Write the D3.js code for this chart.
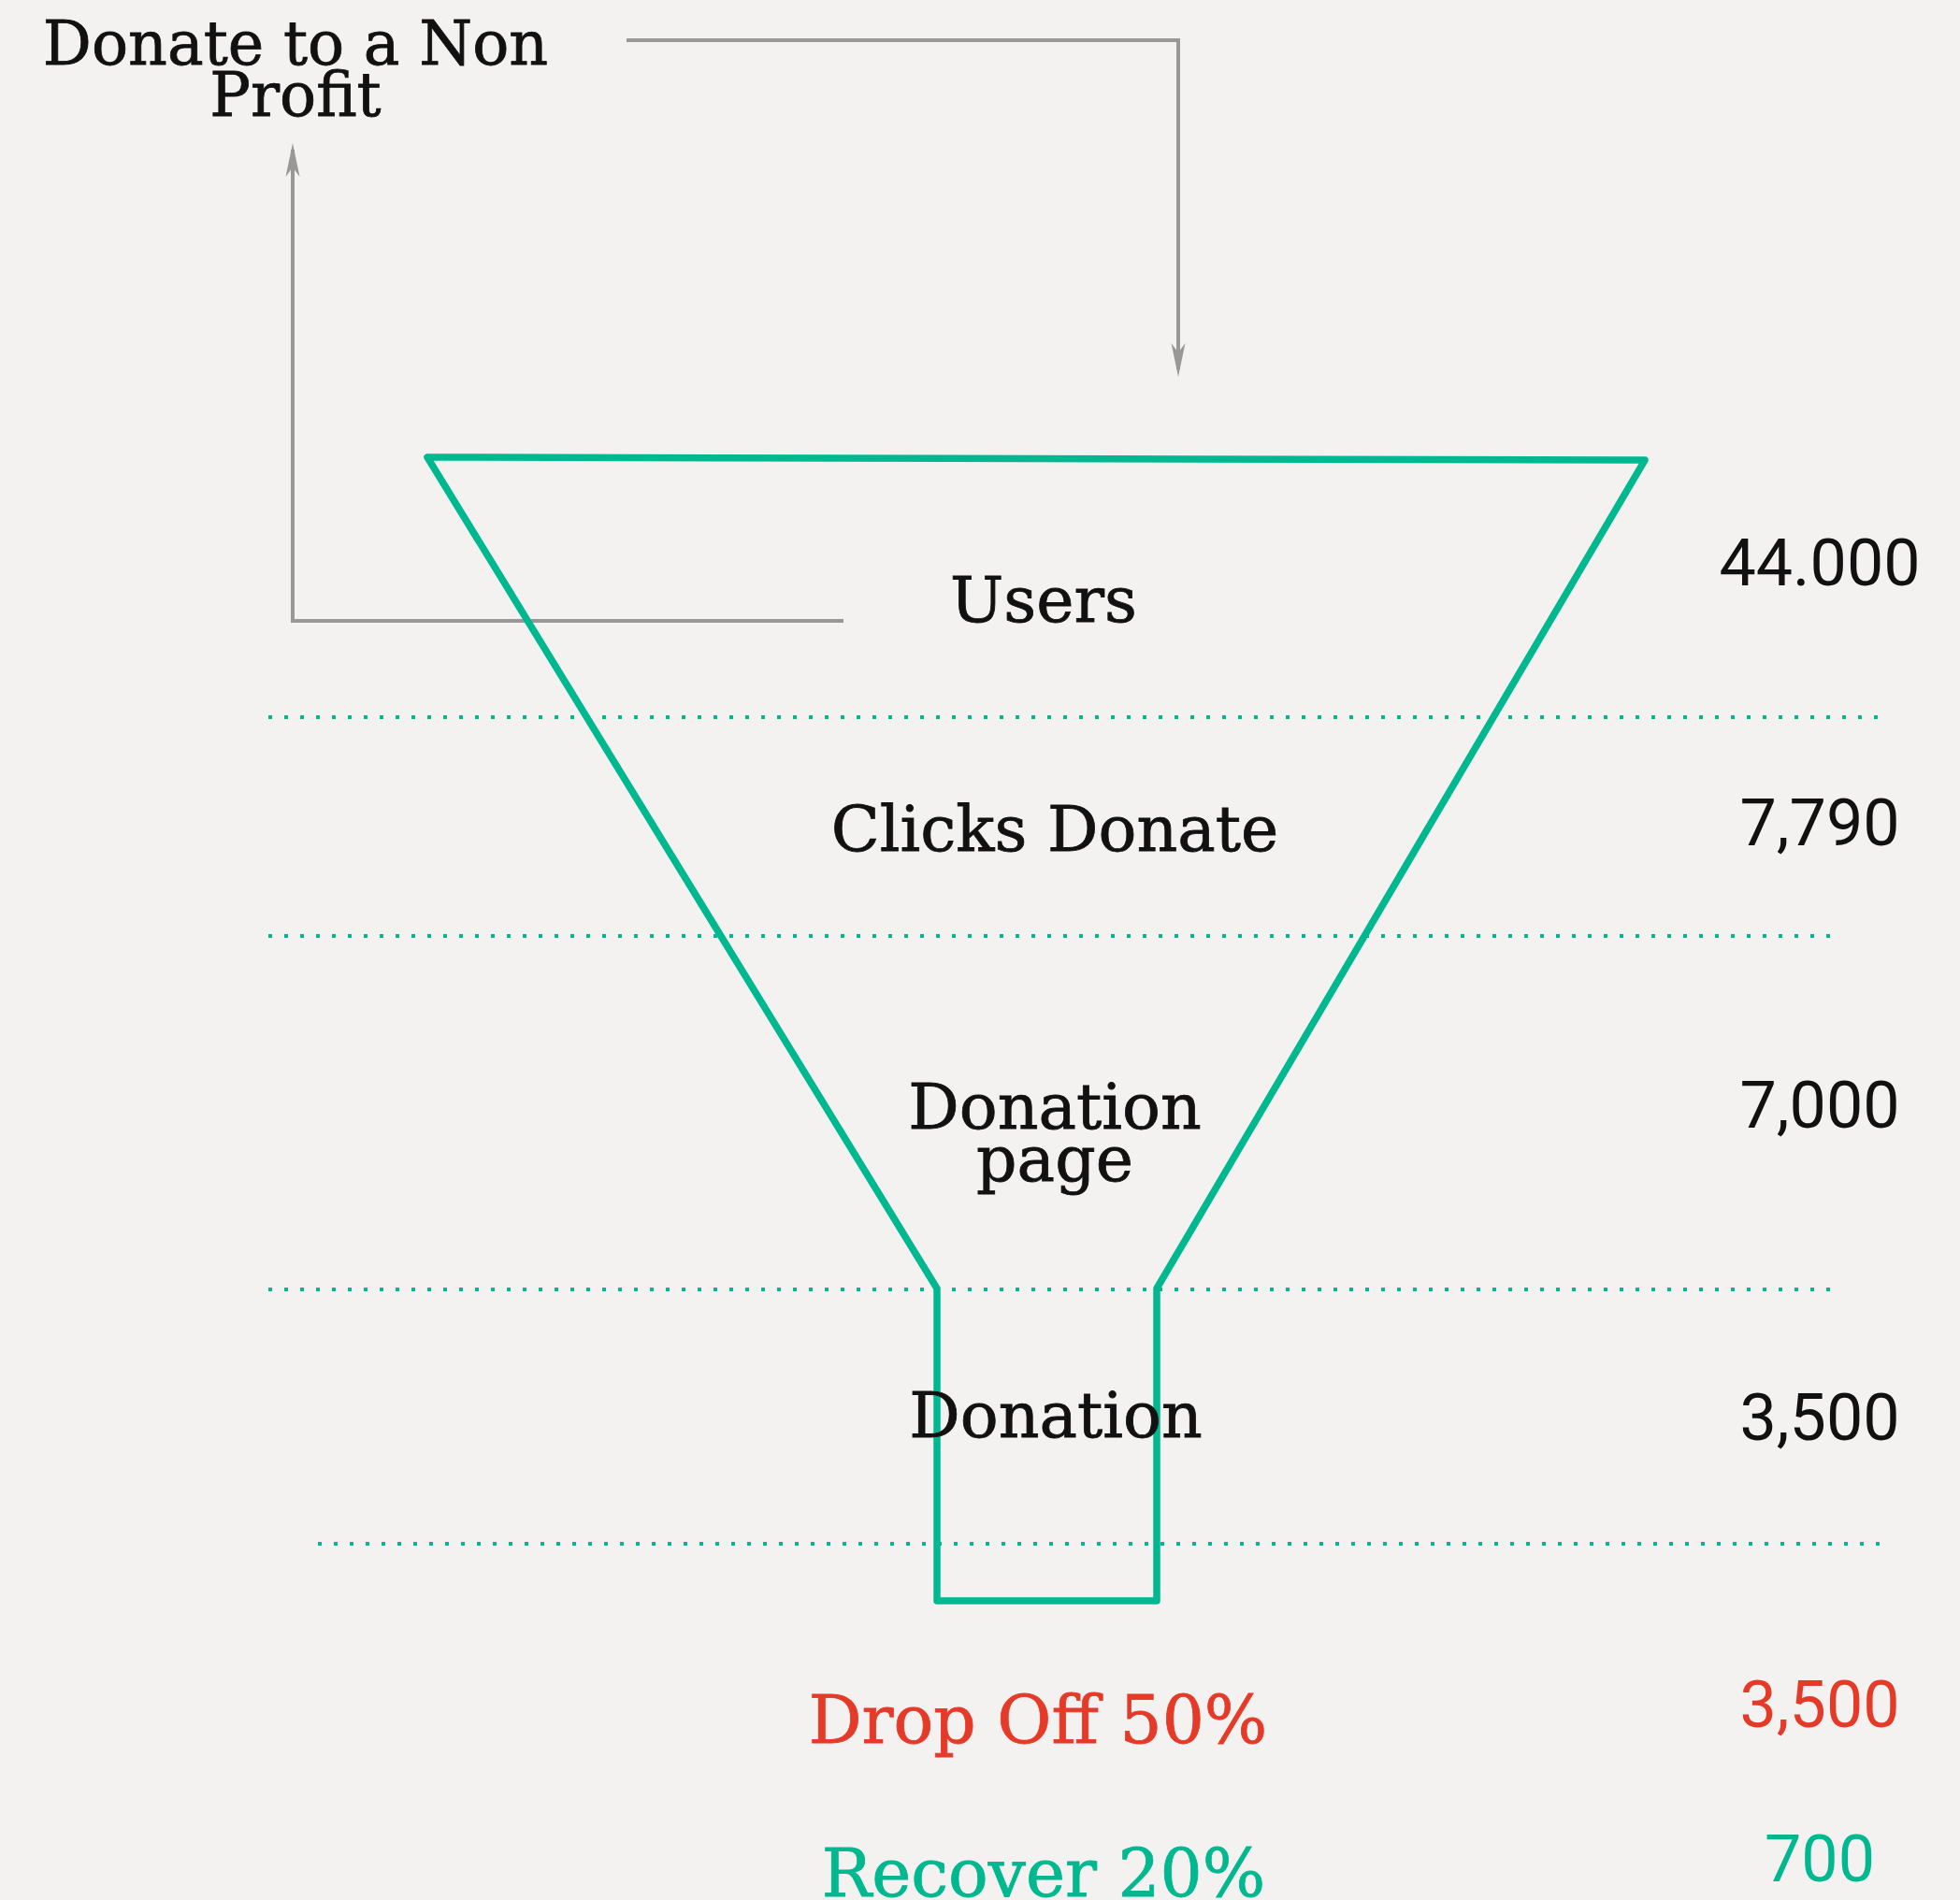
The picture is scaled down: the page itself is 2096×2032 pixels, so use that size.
<!DOCTYPE html>
<html>
<head>
<meta charset="utf-8">
<script src="https://cdn.jsdelivr.net/npm/d3@7"></script>
<style>
  html, body { margin: 0; padding: 0; background: #f3f2f0; }
  svg { display: block; }
</style>
</head>
<body>
<svg width="2096" height="2032"></svg>
<script>
'use strict'

// funnel stages and counts
const stageLines = [["Users"], ["Clicks Donate"], ["Donation", "page"], ["Donation"]];
const stageValues = [44000, 7790, 7000, 3500];
const valueLabels = ["44.000", "7,790", "7,000", "3,500"];

// what happens after the funnel
const outcomes = ["Drop Off 50%", "Recover 20%"];
const outcomeValues = [3500, 700];
const outcomeLabels = ["3,500", "700"];

const titleLines = ["Donate to a Non", "Profit"];

const GREEN = '#00b88f';
const RED = '#e63a29';
const GREY = '#9a9896';
const SERIF = '"DejaVu Serif", serif';
const NUM = 'Roboto, sans-serif';

const svg = d3.select('svg');

// row layout (label baselines, number baselines)
const stageIdx = d3.range(stageLines.length);
const labelY = d3.scaleOrdinal().domain(stageIdx).range([665, 910, 1207, 1537]);
const labelX = d3.scaleOrdinal().domain(stageIdx).range([1116, 1128, 1128, 1129]);
const numberY = d3.scaleOrdinal().domain(stageIdx).range([626, 904, 1206, 1540]);
const outcomeIdx = d3.range(outcomes.length);
const outcomeY = d3.scaleOrdinal().domain(outcomeIdx).range([1864, 2028]);
const outcomeX = d3.scaleOrdinal().domain(outcomeIdx).range([1110, 1116]);
const outcomeNumY = d3.scaleOrdinal().domain(outcomeIdx).range([1847, 2012]);

const NUMBER_X = 1946;

// funnel outline in a unit box, scaled out to pixels
const fx = d3.scaleLinear().domain([0, 1]).range([457, 1759]);
const fy = d3.scaleLinear().domain([0, 1]).range([489, 1712]);
const neckL = (1002 - 457) / 1302, neckR = (1237 - 457) / 1302;
const neckY = (1378 - 489) / 1223;
const funnel = [[0, 0], [1, 0.0025], [neckR, neckY], [neckR, 1], [neckL, 1], [neckL, neckY]];

// dotted separators between rows
const dividers = [
  { y: 767, x0: 287, x1: 2008 },
  { y: 1001, x0: 287, x1: 1958 },
  { y: 1379, x0: 287, x1: 1958 },
  { y: 1651, x0: 340, x1: 2012 }
];

svg.append('g')
  .selectAll('line')
  .data(dividers)
  .join('line')
  .attr('x1', d => d.x0)
  .attr('x2', d => d.x1)
  .attr('y1', d => d.y)
  .attr('y2', d => d.y)
  .attr('stroke', GREEN)
  .attr('stroke-width', 4)
  .attr('stroke-dasharray', '4 13');

// grey connector lines with arrows
const g = svg.append('g')
  .attr('stroke', GREY)
  .attr('stroke-width', 4)
  .attr('fill', 'none');

g.append('path').attr('d', 'M902,664 H313 V160');
g.append('path').attr('d', 'M670,43 H1260 V395');

function arrowHead(x, tip, dir) {
  // dir -1 points up, 1 points down
  const back = tip - dir * 36, notch = tip - dir * 26;
  return `M${x},${tip} L${x - 7.5},${back} L${x},${notch} L${x + 7.5},${back} Z`;
}
svg.append('path').attr('d', arrowHead(313, 153, -1)).attr('fill', GREY);
svg.append('path').attr('d', arrowHead(1260, 403, 1)).attr('fill', GREY);

// funnel
svg.append('path')
  .attr('d', d3.line().x(d => fx(d[0])).y(d => fy(d[1])).curve(d3.curveLinearClosed)(funnel))
  .attr('fill', 'none')
  .attr('stroke', GREEN)
  .attr('stroke-width', 7.5)
  .attr('stroke-linejoin', 'round');

// title
svg.append('text')
  .attr('font-family', SERIF)
  .attr('font-size', 65)
  .attr('text-anchor', 'middle')
  .attr('fill', '#111')
  .attr('stroke', '#111')
  .attr('stroke-width', 0.8)
  .selectAll('tspan')
  .data(titleLines)
  .join('tspan')
  .attr('x', 316)
  .attr('y', (d, i) => 69 + i * 55)
  .text(d => d);

// stage labels
svg.append('g')
  .selectAll('text')
  .data(stageLines)
  .join('text')
  .attr('font-family', SERIF)
  .attr('font-size', 68)
  .attr('text-anchor', 'middle')
  .attr('fill', '#111')
  .attr('stroke', '#111')
  .attr('stroke-width', 0.8)
  .selectAll('tspan')
  .data((d, i) => d.map((s, j) => ({ s, i, j })))
  .join('tspan')
  .attr('x', d => labelX(d.i))
  .attr('y', d => labelY(d.i) + d.j * 56)
  .text(d => d.s);

// stage numbers
svg.append('g')
  .selectAll('text')
  .data(stageValues)
  .join('text')
  .attr('x', NUMBER_X)
  .attr('y', (d, i) => numberY(i))
  .attr('font-family', NUM)
  .attr('font-size', 70)
  .attr('text-anchor', 'middle')
  .attr('fill', '#111')
  .text((d, i) => valueLabels[i]);

// outcomes
const outColor = [RED, GREEN];
svg.append('g')
  .selectAll('text')
  .data(outcomes)
  .join('text')
  .attr('x', (d, i) => outcomeX(i))
  .attr('y', (d, i) => outcomeY(i))
  .attr('font-family', SERIF)
  .attr('font-size', 71)
  .attr('text-anchor', 'middle')
  .attr('fill', (d, i) => outColor[i])
  .attr('stroke', (d, i) => outColor[i])
  .attr('stroke-width', 0.8)
  .text(d => d);

svg.append('g')
  .selectAll('text')
  .data(outcomeValues)
  .join('text')
  .attr('x', NUMBER_X)
  .attr('y', (d, i) => outcomeNumY(i))
  .attr('font-family', NUM)
  .attr('font-size', 70)
  .attr('text-anchor', 'middle')
  .attr('fill', (d, i) => outColor[i])
  .text((d, i) => outcomeLabels[i]);
</script>
</body>
</html>
